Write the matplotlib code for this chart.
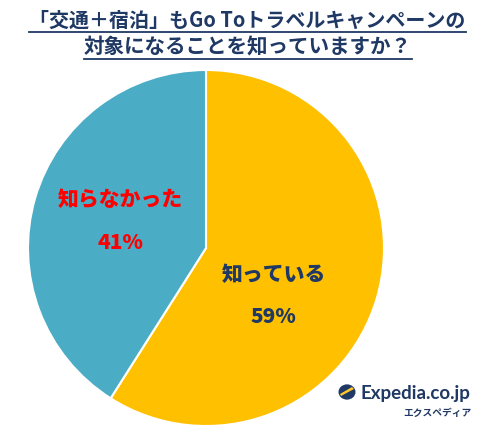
import matplotlib
matplotlib.use("Agg")
import matplotlib.pyplot as plt
from matplotlib.patches import Circle, Polygon
from matplotlib.lines import Line2D

plt.rcParams["font.family"] = ["Noto Sans CJK JP", "DejaVu Sans"]

TITLE_LINES = ["「交通＋宿泊」もGo Toトラベルキャンペーンの", "対象になることを知っていますか？"]
categories = ["知っている", "知らなかった"]
shares = [59, 41]
colors = ["#FFC000", "#4BACC6"]
label_colors = ["#1F3864", "#FF0000"]
label_pos = [(0.38, -0.27), (-0.48, 0.15)]

NAVY = "#1F3864"
W, H = 495, 445

fig = plt.figure(figsize=(W / 100, H / 100), dpi=100)
fig.patch.set_facecolor("white")

# pie axes: centre (206, 248) px, radius 178 px
cx, cy, r = 206, 248, 178
ax = fig.add_axes([(cx - r) / W, (H - cy - r) / H, 2 * r / W, 2 * r / H])
ax.pie(shares, colors=colors, startangle=90, counterclock=False,
       wedgeprops=dict(edgecolor="white", linewidth=1.5))
ax.set_xlim(-1, 1)
ax.set_ylim(-1, 1)
ax.set_aspect("equal")
ax.axis("off")

for name, val, col, (x, y) in zip(categories, shares, label_colors, label_pos):
    ax.text(x, y + 0.12, name, ha="center", va="center", fontsize=15,
            fontweight="heavy", color=col)
    ax.text(x, y - 0.12, f"{val}%", ha="center", va="center", fontsize=15,
            fontweight="heavy", color=col)

# title with underline
title_y = [20, 47]
title_size = [14.4, 14.8]
renderer = fig.canvas.get_renderer()
for line, ty, fs in zip(TITLE_LINES, title_y, title_size):
    t = fig.text(0.5, 1 - ty / H, line, ha="center", va="center", fontsize=fs,
                 fontweight="bold", color=NAVY)
    bb = t.get_window_extent(renderer=renderer)
    uy = bb.y0 - 1
    fig.add_artist(Line2D([bb.x0 / W, bb.x1 / W], [uy / H, uy / H],
                          transform=fig.transFigure, color=NAVY, linewidth=1.3))

# Expedia logo
lx, ly = 347, 392
fig.add_artist(Circle((lx / W, 1 - ly / H), 8.5 / W, transform=fig.transFigure,
                      facecolor=NAVY, edgecolor="none"))
fig.add_artist(Polygon([((lx - 6) / W, 1 - (ly + 4) / H), ((lx + 7) / W, 1 - (ly - 3) / H),
                        ((lx + 5) / W, 1 - (ly - 5) / H), ((lx - 7) / W, 1 - (ly + 2) / H)],
                       closed=True, transform=fig.transFigure, facecolor="#FFC72C",
                       edgecolor="none"))
fig.text(360 / W, 1 - 393 / H, "Expedia.co.jp", ha="left", va="center", fontsize=13.5,
         color=NAVY, family=["Lato", "DejaVu Sans"], fontweight="bold")
fig.text(437 / W, 1 - 413 / H, "エクスペディア", ha="center", va="center", fontsize=7,
         color=NAVY, fontweight="bold")

fig.savefig("out.png", dpi=100)
